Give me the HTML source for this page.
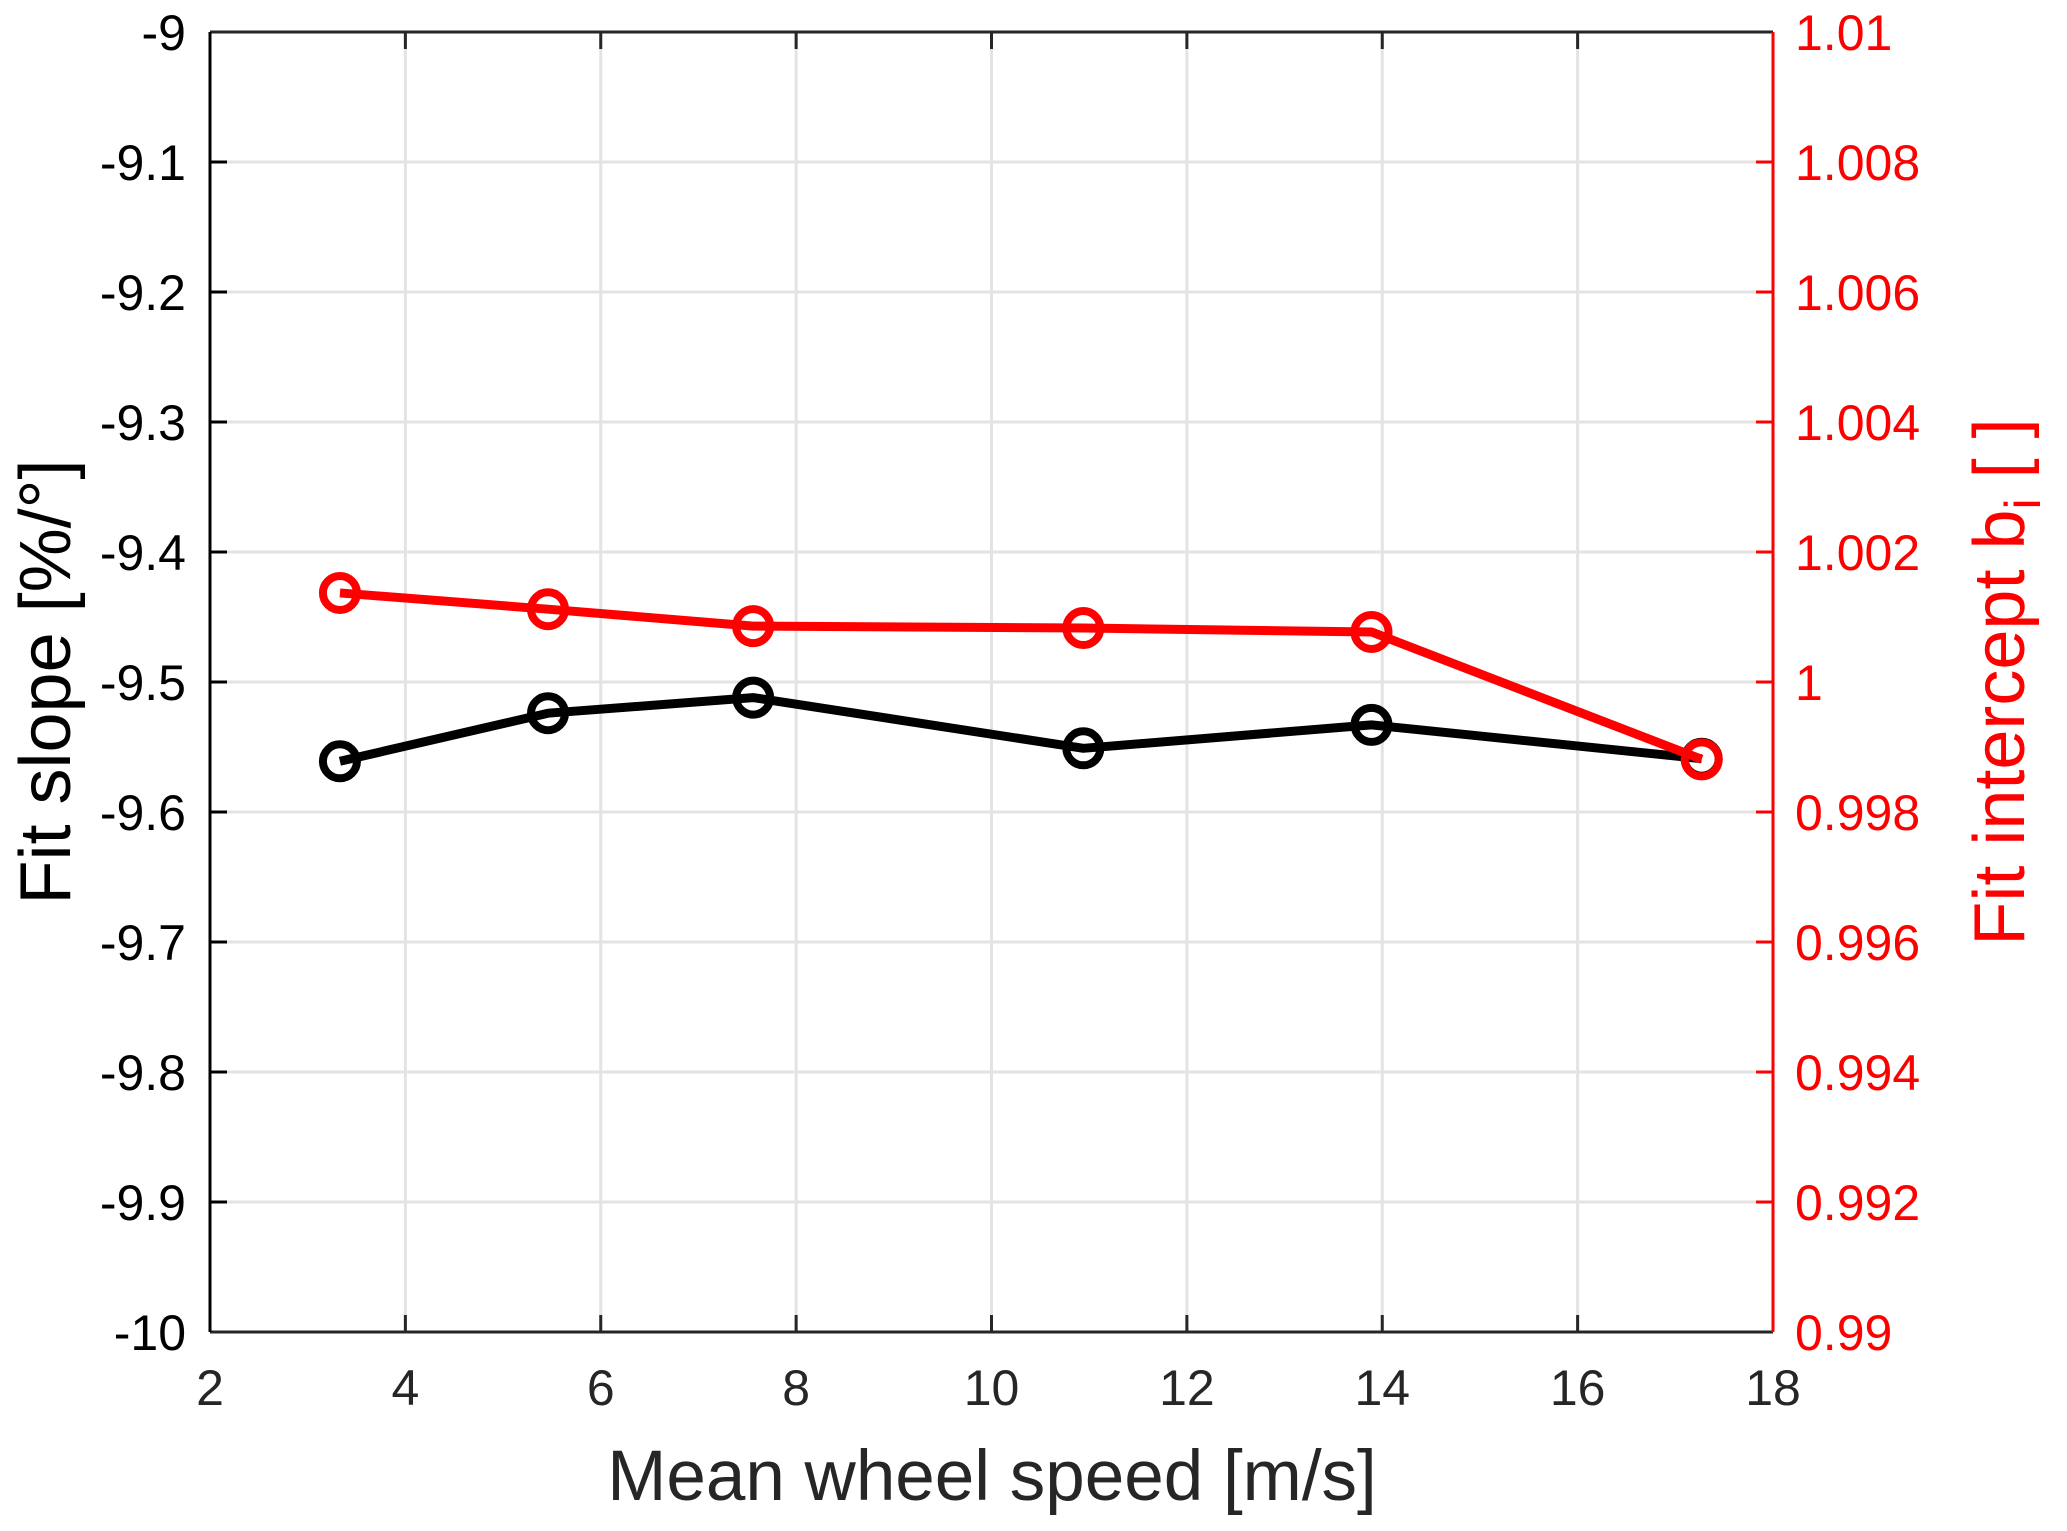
<!DOCTYPE html>
<html><head><meta charset="utf-8"><style>
html,body{margin:0;padding:0;background:#fff;}
svg text{font-family:"Liberation Sans",sans-serif;}
</style></head><body>
<svg id="chart" width="2067" height="1526" viewBox="0 0 2067 1526" xmlns="http://www.w3.org/2000/svg">
<rect width="2067" height="1526" fill="#fff"/>
<g id="grid"></g>
<g id="axes"></g>
<g id="series"></g>
<text x="992" y="1500" font-size="71" fill="#262626" text-anchor="middle">Mean wheel speed [m/s]</text>
<text transform="translate(70,682) rotate(-90)" font-size="72" fill="#000" text-anchor="middle">Fit slope [%/°]</text>
<text transform="translate(2024,682) rotate(-90)" font-size="72" fill="#ff0000" text-anchor="middle">Fit intercept b<tspan font-size="50" dy="16">i</tspan><tspan dy="-16"> [ ]</tspan></text>
</svg>
<script>
const xTicks = [2,4,6,8,10,12,14,16,18];
const leftTicks = [-9,-9.1,-9.2,-9.3,-9.4,-9.5,-9.6,-9.7,-9.8,-9.9,-10];
const leftTickLabels = ["-9","-9.1","-9.2","-9.3","-9.4","-9.5","-9.6","-9.7","-9.8","-9.9","-10"];
const rightTicks = [1.01,1.008,1.006,1.004,1.002,1,0.998,0.996,0.994,0.992,0.99];
const rightTickLabels = ["1.01","1.008","1.006","1.004","1.002","1","0.998","0.996","0.994","0.992","0.99"];
const speeds = [3.33,5.46,7.56,10.94,13.89,17.27];
const slopeValues = [-9.561,-9.524,-9.512,-9.551,-9.533,-9.559];
const interceptValues = [1.00137,1.00112,1.00086,1.00083,1.00077,0.99881];

const L=210,R=1773,T=32,B=1332;
const NS="http://www.w3.org/2000/svg";
const xS=v=>L+(v-2)/16*(R-L);
const yL=v=>T+(-9-v)/1*(B-T);
const yR=v=>T+(1.01-v)/0.02*(B-T);
function mk(tag,attrs,parent){const e=document.createElementNS(NS,tag);for(const k in attrs)e.setAttribute(k,attrs[k]);parent.appendChild(e);return e;}
const gridG=document.getElementById('grid'),axesG=document.getElementById('axes'),seriesG=document.getElementById('series');

xTicks.forEach((v,i)=>{
  const x=xS(v);
  if(i>0&&i<xTicks.length-1){
    const g=mk('line',{x1:x,x2:x,y1:T,y2:B,stroke:'#e3e3e3','stroke-width':3},gridG);
    
    
    const t1=mk('line',{x1:x,x2:x,y1:B,y2:B-17,stroke:'#262626','stroke-width':3},axesG);
    
    
    const t2=mk('line',{x1:x,x2:x,y1:T,y2:T+17,stroke:'#262626','stroke-width':3},axesG);
    
    
  }
  const lb=mk('text',{x:x,y:1405,'font-size':50,fill:'#262626','text-anchor':'middle'},axesG);
  lb.textContent=String(v);
  
  
});
leftTicks.forEach((v,i)=>{
  const y=yL(v);
  if(i>0&&i<leftTicks.length-1){
    const g=mk('line',{x1:L,x2:R,y1:y,y2:y,stroke:'#e3e3e3','stroke-width':3},gridG);
    
    
  }
  const t=mk('line',{x1:L,x2:L+17,y1:y,y2:y,stroke:'#000','stroke-width':3},axesG);
  
  
  const lb=mk('text',{x:186,y:y+18,'font-size':50,fill:'#000','text-anchor':'end'},axesG);
  lb.textContent=leftTickLabels[i];
  
  
});
rightTicks.forEach((v,i)=>{
  const y=yR(v);
  const t=mk('line',{x1:R,x2:R-17,y1:y,y2:y,stroke:'#ff0000','stroke-width':3},axesG);
  
  
  const lb=mk('text',{x:R+22,y:y+18,'font-size':50,fill:'#ff0000','text-anchor':'start'},axesG);
  lb.textContent=rightTickLabels[i];
  
  
});
const topLine=mk('line',{x1:L,x2:R,y1:T,y2:T,stroke:'#262626','stroke-width':3},axesG);


const botLine=mk('line',{x1:L,x2:R,y1:B,y2:B,stroke:'#262626','stroke-width':3},axesG);


const leftLine=mk('line',{x1:L,x2:L,y1:T,y2:B,stroke:'#000','stroke-width':3},axesG);


const rightLine=mk('line',{x1:R,x2:R,y1:T,y2:B,stroke:'#ff0000','stroke-width':3},axesG);



function drawSeries(vals,yf,color,name){
  const pts=speeds.map((s,i)=>xS(s)+','+yf(vals[i])).join(' ');
  const pl=mk('polyline',{points:pts,fill:'none',stroke:color,'stroke-width':9,'stroke-linejoin':'round'},seriesG);
  
  
  speeds.forEach((s,i)=>{
    const c=mk('circle',{cx:xS(s),cy:yf(vals[i]),r:17,fill:'none',stroke:color,'stroke-width':8},seriesG);
    
    
  });
}
drawSeries(slopeValues,yL,'#000','slope');
drawSeries(interceptValues,yR,'#ff0000','intercept');
</script>
</body></html>
